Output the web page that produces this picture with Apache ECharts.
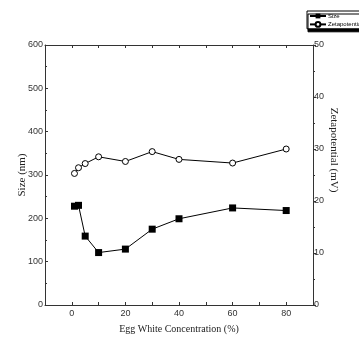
<!DOCTYPE html>
<html><head><meta charset="utf-8">
<script src="https://cdn.jsdelivr.net/npm/echarts@6/dist/echarts.min.js"></script>
<style>html,body{margin:0;padding:0;background:#fff}#c{width:359px;height:339px}</style>
</head><body><div id="c"></div>
<script>
const concentration = [1, 2.5, 5, 10, 20, 30, 40, 60, 80];
const sizeNm = [228, 230, 159, 121, 129, 175, 199, 224, 218];
const zetaMv = [25.3, 26.4, 27.2, 28.5, 27.6, 29.5, 28.0, 27.3, 30.0];
const xTickLabels = [0, 20, 40, 60, 80];

const chart = echarts.init(document.getElementById('c'));
const axisCol = '#333';
const lab = {color: '#333', fontFamily: 'Liberation Sans', fontSize: 9};
chart.setOption({
  animation: false,
  grid: {left: 45, right: 46, top: 45, bottom: 31},
  legend: {
    left: 307, top: 11, orient: 'vertical', itemGap: 2, padding: [2, 2, 1, 2],
    itemWidth: 16, itemHeight: 6,
    borderColor: '#000', borderWidth: 1, backgroundColor: '#fff',
    shadowColor: '#000', shadowOffsetY: 3, shadowOffsetX: 1, shadowBlur: 0,
    textStyle: {fontSize: 6, fontFamily: 'Liberation Sans', color: '#000', padding: [0,0,0,-3]},
    data: ['Size', 'Zetapotential']
  },
  xAxis: [{
    type: 'value', min: -10, max: 90, interval: 10,
    name: 'Egg White Concentration (%)', nameLocation: 'middle', nameGap: 19,
    nameTextStyle: {fontFamily: 'Liberation Serif', fontSize: 10, color: '#222'},
    axisLine: {onZero: false, lineStyle: {color: axisCol}},
    axisTick: {inside: true, length: 3, lineStyle: {color: axisCol}},
    axisLabel: Object.assign({margin: 4, formatter: v => xTickLabels.includes(v) ? String(v) : ''}, lab),
    splitLine: {show: false}
  }, {
    type: 'value', min: -10, max: 90, interval: 10, position: 'top',
    axisLine: {onZero: false, lineStyle: {color: axisCol}},
    axisTick: {inside: true, length: 3, lineStyle: {color: axisCol}},
    axisLabel: {show: false}, splitLine: {show: false}
  }],
  yAxis: [{
    type: 'value', min: 0, max: 600, interval: 100, position: 'left',
    name: 'Size (nm)', nameLocation: 'middle', nameGap: 17, nameRotate: 90, nameMoveOverlap: false,
    nameTextStyle: {fontFamily: 'Liberation Serif', fontSize: 11, color: '#222'},
    axisLine: {show: true, onZero: false, lineStyle: {color: axisCol}},
    axisTick: {inside: true, length: 3, lineStyle: {color: axisCol}},
    minorTick: {show: true, splitNumber: 2, length: 2, lineStyle: {color: axisCol}},
    axisLabel: Object.assign({margin: 2}, lab),
    splitLine: {show: false}
  }, {
    type: 'value', min: 0, max: 50, interval: 10, position: 'right',
    name: 'Zetapotential (mV)', nameLocation: 'middle', nameGap: 15, nameRotate: -90, nameMoveOverlap: false,
    nameTextStyle: {fontFamily: 'Liberation Serif', fontSize: 11, color: '#222', padding: [0, 50, 0, 0]},
    axisLine: {show: true, onZero: false, lineStyle: {color: axisCol}},
    axisTick: {inside: false, length: 3, lineStyle: {color: axisCol}},
    minorTick: {show: true, splitNumber: 2, length: 2, lineStyle: {color: axisCol}},
    axisLabel: Object.assign({margin: 1}, lab),
    splitLine: {show: false}
  }],
  series: [{
    name: 'Size', type: 'line', yAxisIndex: 0,
    data: concentration.map((c, i) => [c, sizeNm[i]]),
    symbol: 'rect', symbolSize: 7,
    lineStyle: {color: '#000', width: 1}, itemStyle: {color: '#000'}
  }, {
    name: 'Zetapotential', type: 'line', yAxisIndex: 1,
    data: concentration.map((c, i) => [c, zetaMv[i]]),
    symbol: 'circle', symbolSize: 6, showAllSymbol: true,
    lineStyle: {color: '#000', width: 1}, itemStyle: {color: '#fff', borderColor: '#000', borderWidth: 1}
  }]
});
</script></body></html>
